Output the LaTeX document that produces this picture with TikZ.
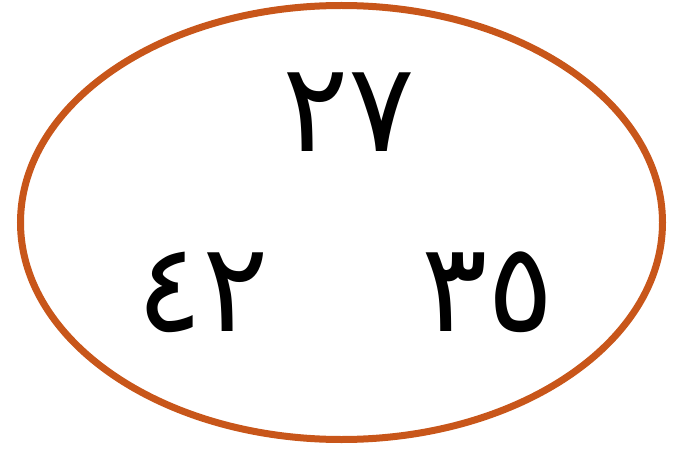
\documentclass[tikz,border=0pt]{standalone}
\usepackage{fontspec}
\newfontfamily\arabicfont[Script=Arabic]{DejaVu Sans}
\definecolor{rim}{HTML}{C8561A}
\begin{document}
\begin{tikzpicture}[x=1pt,y=-1pt,
  num/.style={font=\arabicfont\fontsize{124}{126}\selectfont, inner sep=0pt, text=black}]
\useasboundingbox (0,0) rectangle (682,449);
\draw[rim, line width=7pt] (341.5,222.5) ellipse [x radius=321, y radius=217];
\node[num] (top) at (349,112) {٢٧};
\node[num] (bl) at (203,292) {٤٢};
\node[num] (br) at (488,292) {٣٥};
\end{tikzpicture}
\end{document}
